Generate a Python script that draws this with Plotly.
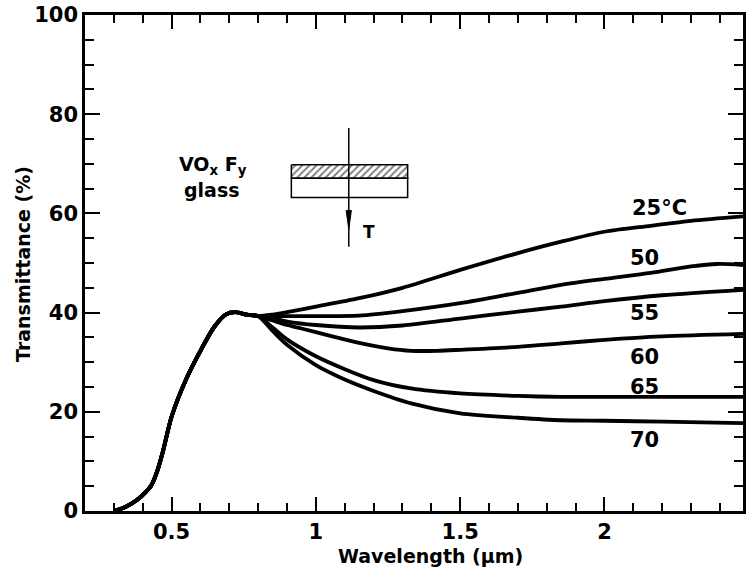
import plotly.graph_objects as go

# Shared rising edge (all temperatures coincide below ~0.8 um)
rise_wl = [0.30, 0.34, 0.38, 0.41, 0.43, 0.45, 0.47, 0.50, 0.55, 0.60, 0.65, 0.69, 0.72, 0.76, 0.80]
rise_T = [0.0, 0.8, 2.2, 3.8, 5.2, 8.0, 12.0, 19.0, 26.5, 32.3, 37.3, 39.7, 40.1, 39.6, 39.3]

wl_25 = [0.85, 0.9, 1.0, 1.15, 1.3, 1.5, 1.7, 1.85, 2.0, 2.16, 2.3, 2.48]
T_25 = [39.6, 40.1, 41.2, 42.9, 45.0, 48.6, 52.0, 54.3, 56.3, 57.5, 58.5, 59.4]

wl_50 = [0.85, 0.9, 1.0, 1.15, 1.3, 1.5, 1.7, 1.85, 2.0, 2.16, 2.3, 2.39, 2.48]
T_50 = [39.3, 39.3, 39.3, 39.4, 40.3, 41.9, 44.0, 45.6, 46.8, 48.0, 49.3, 49.8, 49.6]

wl_55 = [0.85, 0.9, 1.0, 1.15, 1.3, 1.5, 1.7, 1.85, 2.0, 2.2, 2.48]
T_55 = [38.8, 38.2, 37.5, 37.0, 37.4, 38.8, 40.2, 41.2, 42.3, 43.5, 44.6]

wl_60 = [0.85, 0.9, 0.95, 1.05, 1.15, 1.25, 1.33, 1.42, 1.5, 1.7, 1.85, 2.0, 2.2, 2.48]
T_60 = [38.4, 37.5, 36.8, 35.3, 33.9, 32.8, 32.3, 32.3, 32.5, 33.1, 33.8, 34.5, 35.2, 35.7]

wl_65 = [0.85, 0.9, 1.0, 1.1, 1.2, 1.33, 1.5, 1.7, 1.85, 2.0, 2.48]
T_65 = [37.0, 34.6, 31.2, 28.6, 26.4, 24.7, 23.7, 23.2, 23.0, 23.0, 23.0]

wl_70 = [0.85, 0.9, 1.0, 1.1, 1.2, 1.33, 1.5, 1.7, 1.85, 2.0, 2.2, 2.48]
T_70 = [36.3, 33.5, 29.4, 26.5, 24.2, 21.7, 19.7, 18.8, 18.3, 18.2, 18.0, 17.7]

series = [("25", wl_25, T_25), ("50", wl_50, T_50), ("55", wl_55, T_55),
          ("60", wl_60, T_60), ("65", wl_65, T_65), ("70", wl_70, T_70)]

curve_labels = ["25°C", "50", "55", "60", "65", "70"]
label_x = [2.19, 2.14, 2.14, 2.14, 2.14, 2.14]
label_y = [61.0, 51.0, 39.9, 31.1, 25.1, 14.3]

FONT = "DejaVu Sans"

fig = go.Figure()
for name, wl, T in series:
    fig.add_trace(go.Scatter(
        x=rise_wl + wl, y=rise_T + T, mode="lines", name=name,
        line=dict(color="black", width=3.8, shape="spline", smoothing=0.8),
        hoverinfo="skip", showlegend=False))

# inset sample sketch: hatched film on glass
film_x = [0.915, 1.318, 1.318, 0.915, 0.915]
film_y = [69.8, 69.8, 67.1, 67.1, 69.8]
fig.add_trace(go.Scatter(
    x=film_x, y=film_y, mode="lines", fill="toself",
    line=dict(color="black", width=1.5),
    fillcolor="white",
    fillpattern=dict(shape="/", size=5, solidity=0.4, fgcolor="black", bgcolor="white"),
    hoverinfo="skip", showlegend=False))

shapes = [
    dict(type="rect", xref="x", yref="y", x0=0.915, x1=1.318, y0=63.2, y1=67.1,
         line=dict(color="black", width=1.5), fillcolor="rgba(0,0,0,0)"),
    dict(type="line", xref="x", yref="y", x0=1.114, x1=1.114, y0=77.2, y1=53.3,
         line=dict(color="black", width=1.5)),
    dict(type="path", xref="x", yref="y",
         path="M 1.105 60.6 L 1.123 60.6 L 1.114 56.8 Z",
         fillcolor="black", line=dict(color="black", width=1)),
]

annotations = []
for txt, lx, ly in zip(curve_labels, label_x, label_y):
    annotations.append(dict(x=lx, y=ly, xref="x", yref="y", text=txt, showarrow=False,
                            font=dict(family=FONT, size=21, color="black", weight="bold")))
annotations += [
    dict(x=0.645, y=69.6, xref="x", yref="y", text="VO<sub>x</sub> F<sub>y</sub>", showarrow=False,
         font=dict(family=FONT, size=19, color="black", weight="bold")),
    dict(x=0.64, y=64.8, xref="x", yref="y", text="glass", showarrow=False,
         font=dict(family=FONT, size=19, color="black", weight="bold")),
    dict(x=1.185, y=56.3, xref="x", yref="y", text="T", showarrow=False,
         font=dict(family=FONT, size=17, color="black", weight="bold")),
    # axis titles
    dict(x=0.525, y=0, xref="paper", yref="paper", xanchor="center", yanchor="top", yshift=-32,
         text="Wavelength (µm)", showarrow=False,
         font=dict(family=FONT, size=19, color="black", weight="bold")),
    dict(x=0, y=0.498, xref="paper", yref="paper", xanchor="center", yanchor="middle",
         xshift=-62, textangle=-90,
         text="Transmittance (%)", showarrow=False,
         font=dict(family=FONT, size=19, color="black", weight="bold")),
]

axis_font = dict(family=FONT, size=21, color="black", weight="bold")

fig.update_layout(
    width=748, height=571,
    margin=dict(l=85, r=2, t=15, b=60),
    paper_bgcolor="white", plot_bgcolor="white",
    shapes=shapes, annotations=annotations,
    xaxis=dict(range=[0.2, 2.48], tickmode="array", tickvals=[0.5, 1, 1.5, 2],
               ticktext=["0.5", "1", "1.5", "2"],
               ticks="inside", ticklen=14, tickwidth=2, tickcolor="black",
               minor=dict(ticks="inside", ticklen=8, tickwidth=2, dtick=0.1, tick0=0, tickcolor="black"),
               showline=True, linecolor="black", linewidth=2.5, mirror="ticks",
               showgrid=False, zeroline=False, tickfont=axis_font),
    yaxis=dict(range=[0, 100], tickmode="array", tickvals=[0, 20, 40, 60, 80, 100],
               ticks="inside", ticklen=15, tickwidth=2, tickcolor="black",
               minor=dict(ticks="inside", ticklen=9, tickwidth=2, dtick=5, tick0=0, tickcolor="black"),
               showline=True, linecolor="black", linewidth=2.5, mirror="ticks",
               showgrid=False, zeroline=False, tickfont=axis_font),
)

fig.write_html("out.html")
